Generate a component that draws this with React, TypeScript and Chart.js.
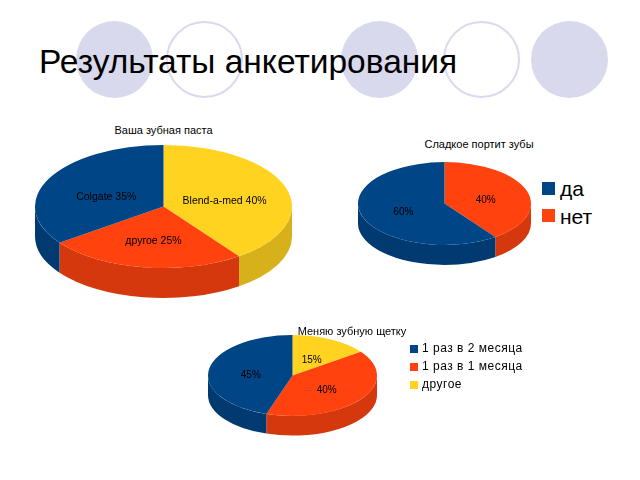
import React, { useEffect, useRef } from 'react';
import { Chart, registerables } from 'chart.js';

Chart.register(...registerables);

// ---- data (categories listed counter-clockwise from 12 o'clock, as in the original) ----
const pasteCategories = ['Colgate', 'другое', 'Blend-a-med'];
const pasteShares = [35, 25, 40];

const sweetCategories = ['да', 'нет'];
const sweetShares = [60, 40];

const brushCategories = ['1 раз в 2 месяца', '1 раз в 1 месяца', 'другое'];
const brushShares = [45, 40, 15];

const pageTitle = 'Результаты анкетирования';
const pasteTitle = 'Ваша зубная паста';
const sweetTitle = 'Сладкое портит зубы';
const brushTitle = 'Меняю зубную щетку';

// ---- styles ----
const BLUE = '#004586';
const RED = '#ff420e';
const YELLOW = '#ffd320';
const SIDE: Record<string, string> = {
  [BLUE]: '#003a70',
  [RED]: '#d4380c',
  [YELLOW]: '#d6b11b',
};
const FONT = '"Liberation Sans", Arial, sans-serif';

type PieProps = {
  labels: string[];
  values: number[];
  colors: string[];
  texts: string[];
  cx: number;
  cy: number;
  rx: number;
  ry: number;
  depth: number;
  fontSize: number;
};

function Pie3D(p: PieProps) {
  const ref = useRef<HTMLCanvasElement>(null);
  const left = Math.floor(p.cx - p.rx) - 2;
  const top = Math.floor(p.cy - p.ry) - 2;
  const padL = p.cx - p.rx - left;
  const padT = p.cy - p.ry - top;
  const width = Math.ceil(padL + 2 * p.rx + 2);
  const height = Math.ceil(padT + 2 * p.ry + p.depth + 2);

  useEffect(() => {
    const tilt = p.ry / p.rx;
    // Original draws counter-clockwise; Chart.js draws clockwise, so reverse.
    const labels = [...p.labels].reverse();
    const values = [...p.values].reverse();
    const colors = [...p.colors].reverse();
    const texts = [...p.texts].reverse();
    const sides = colors.map((c) => SIDE[c]);

    const plugin = {
      id: 'pie3d',
      beforeDatasetsDraw(chart: any) {
        const ctx: CanvasRenderingContext2D = chart.ctx;
        const meta = chart.getDatasetMeta(0);
        ctx.save();
        meta.data.forEach((el: any, i: number) => {
          const { x, y, startAngle, endAngle, outerRadius } = el.getProps(
            ['x', 'y', 'startAngle', 'endAngle', 'outerRadius'],
            true
          );
          const r2 = outerRadius * tilt;
          const a = Math.max(startAngle, 0);
          const b = Math.min(endAngle, Math.PI);
          if (b <= a) return;
          ctx.beginPath();
          ctx.ellipse(x, y, outerRadius, r2, 0, a, b, false);
          ctx.ellipse(x, y + p.depth, outerRadius, r2, 0, b, a, true);
          ctx.closePath();
          ctx.fillStyle = sides[i];
          ctx.fill();
        });
        ctx.restore();
        const el0 = meta.data[0];
        ctx.save();
        ctx.translate(el0.x, el0.y);
        ctx.scale(1, tilt);
        ctx.translate(-el0.x, -el0.y);
      },
      afterDatasetsDraw(chart: any) {
        const ctx: CanvasRenderingContext2D = chart.ctx;
        ctx.restore();
        const meta = chart.getDatasetMeta(0);
        ctx.save();
        ctx.font = `${p.fontSize}px ${FONT}`;
        ctx.fillStyle = '#000';
        ctx.textAlign = 'center';
        ctx.textBaseline = 'middle';
        meta.data.forEach((el: any, i: number) => {
          const { x, y, startAngle, endAngle, outerRadius } = el.getProps(
            ['x', 'y', 'startAngle', 'endAngle', 'outerRadius'],
            true
          );
          const mid = (startAngle + endAngle) / 2;
          const lx = x + 0.5 * outerRadius * Math.cos(mid);
          const ly = y + 0.5 * outerRadius * tilt * Math.sin(mid) + p.depth * 0.14;
          ctx.fillText(texts[i], lx, ly);
        });
        ctx.restore();
      },
    };

    const chart = new Chart(ref.current as HTMLCanvasElement, {
      type: 'pie',
      data: {
        labels,
        datasets: [
          {
            data: values,
            backgroundColor: colors,
            borderWidth: 0,
            radius: p.rx,
            clip: false,
          } as any,
        ],
      },
      options: {
        responsive: false,
        animation: false,
        events: [],
        devicePixelRatio: 1,
        layout: {
          padding: {
            left: padL,
            top: padT,
            right: width - padL - 2 * p.rx,
            bottom: height - padT - 2 * p.ry,
          },
        },
        plugins: {
          legend: { display: false },
          tooltip: { enabled: false },
          title: { display: false },
        },
      } as any,
      plugins: [plugin],
    });
    return () => chart.destroy();
  }, []);

  return (
    <canvas
      ref={ref}
      width={width}
      height={height}
      style={{ position: 'absolute', left, top, width, height }}
    />
  );
}

function Circle({ cx, filled }: { cx: number; filled: boolean }) {
  const r = 38.5;
  const cy = 59;
  return (
    <div
      style={{
        position: 'absolute',
        left: cx - r,
        top: cy - r,
        width: 2 * r,
        height: 2 * r,
        borderRadius: '50%',
        boxSizing: 'border-box',
        background: filled ? '#d9d9ee' : '#ffffff',
        border: filled ? 'none' : '2px solid #dadaee',
      }}
    />
  );
}

function Text({
  text,
  left,
  top,
  size,
  width,
  align,
  spacing,
}: {
  text: string;
  left: number;
  top: number;
  size: number;
  width?: number;
  align?: 'left' | 'center';
  spacing?: number;
}) {
  return (
    <div
      style={{
        position: 'absolute',
        left,
        top,
        width,
        fontFamily: FONT,
        fontSize: size,
        lineHeight: `${size}px`,
        whiteSpace: 'nowrap',
        textAlign: align || 'left',
        letterSpacing: spacing ? `${spacing}px` : undefined,
        color: '#000',
      }}
    >
      {text}
    </div>
  );
}

function Legend({
  items,
  colors,
  boxX,
  boxY0,
  box,
  textX,
  baseline0,
  step,
  size,
  spacing,
}: {
  items: string[];
  colors: string[];
  boxX: number;
  boxY0: number;
  box: number;
  textX: number;
  baseline0: number;
  step: number;
  size: number;
  spacing?: number;
}) {
  return (
    <>
      {items.map((it, i) => (
        <React.Fragment key={it}>
          <div
            style={{
              position: 'absolute',
              left: boxX,
              top: boxY0 + i * step,
              width: box,
              height: box,
              background: colors[i],
            }}
          />
          <Text
            text={it}
            left={textX}
            top={baseline0 + i * step - 0.8465 * size}
            size={size}
            spacing={spacing}
          />
        </React.Fragment>
      ))}
    </>
  );
}

export default function App() {
  const pasteColors = [BLUE, RED, YELLOW];
  const sweetColors = [BLUE, RED];
  const brushColors = [BLUE, RED, YELLOW];
  return (
    <div
      style={{
        position: 'absolute',
        left: 0,
        top: 0,
        width: 640,
        height: 480,
        background: '#fff',
        overflow: 'hidden',
      }}
    >
      <Circle cx={114} filled />
      <Circle cx={204} filled={false} />
      <Circle cx={379} filled />
      <Circle cx={481} filled={false} />
      <Circle cx={569} filled />
      <Text text={pageTitle} left={39} top={73 - 0.8465 * 33.5} size={33.5} />

      <Text text={pasteTitle} left={163.5 - 100} top={125.3} size={11} width={200} align="center" />
      <Pie3D
        labels={pasteCategories}
        values={pasteShares}
        colors={pasteColors}
        texts={pasteCategories.map((c, i) => `${c} ${pasteShares[i]}%`)}
        cx={163.5}
        cy={206.5}
        rx={128.5}
        ry={61.5}
        depth={30}
        fontSize={10.5}
      />

      <Text text={sweetTitle} left={479 - 100} top={138.5} size={11} width={200} align="center" />
      <Pie3D
        labels={sweetCategories}
        values={sweetShares}
        colors={sweetColors}
        texts={sweetShares.map((v) => `${v}%`)}
        cx={444.5}
        cy={203.5}
        rx={86.5}
        ry={41.4}
        depth={20}
        fontSize={10}
      />
      <Legend
        items={sweetCategories}
        colors={sweetColors}
        boxX={542}
        boxY0={182}
        box={13}
        textX={560}
        baseline0={196}
        step={27.3}
        size={21}
      />

      <Pie3D
        labels={brushCategories}
        values={brushShares}
        colors={brushColors}
        texts={brushShares.map((v) => `${v}%`)}
        cx={292.5}
        cy={375.5}
        rx={84.5}
        ry={40.4}
        depth={19.7}
        fontSize={10}
      />
      <Text text={brushTitle} left={352 - 100} top={325.5} size={11} width={200} align="center" />
      <Legend
        items={brushCategories}
        colors={brushColors}
        boxX={410}
        boxY0={345}
        box={8}
        textX={422}
        baseline0={352.1}
        step={18}
        size={12}
        spacing={0.5}
      />
    </div>
  );
}
